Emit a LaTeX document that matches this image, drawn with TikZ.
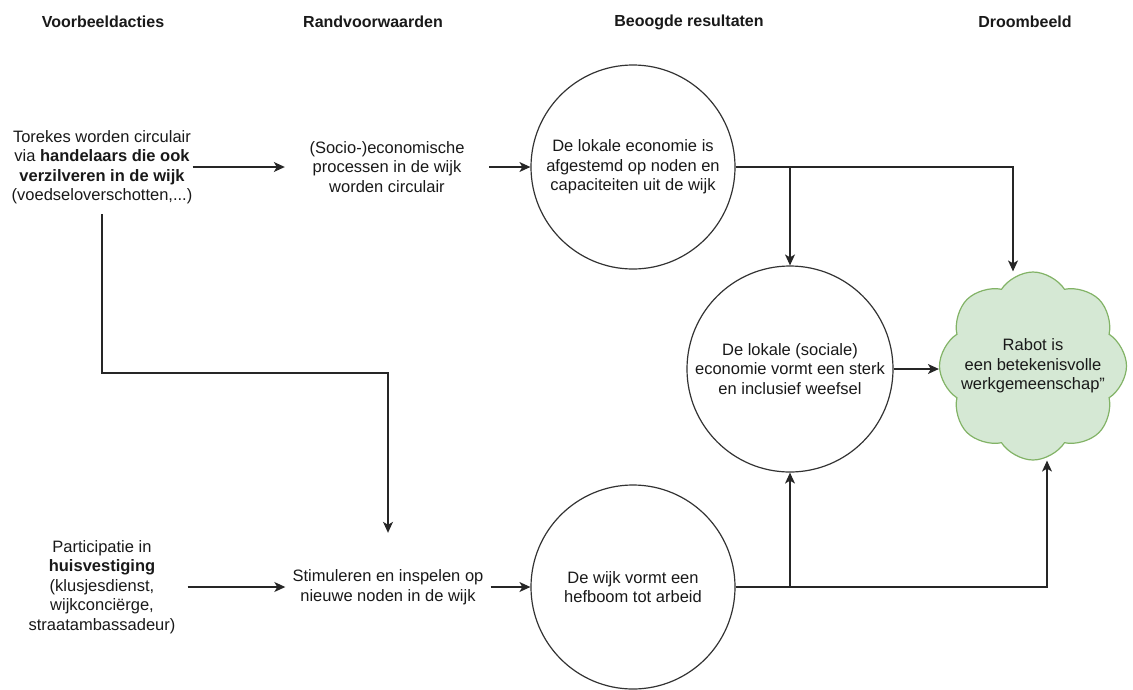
\documentclass[tikz,border=0pt]{standalone}
\usepackage{fontspec}
\setmainfont{Liberation Sans}
\usetikzlibrary{positioning}
\usetikzlibrary{arrows.meta,shapes.symbols}
\definecolor{droomfill}{HTML}{D5E8D4}
\definecolor{droomline}{HTML}{82B366}

\begin{document}
\begin{tikzpicture}[x=1pt,y=-1pt,
		header/.style={font=\fontsize{16}{19}\selectfont\bfseries, text=black!90, inner sep=0pt},
		tekst/.style={align=center, font=\fontsize{16.5}{19.5}\selectfont, text=black!90, inner sep=0pt},
		result/.style={tekst, circle, draw=black!80, line width=1.2pt, minimum size=204pt},
		dream/.style={cloud, cloud puffs=8, cloud puff arc=115, aspect=1, draw=droomline, fill=droomfill, line width=1.2pt, minimum width=187pt, minimum height=188pt, inner sep=0pt},
		connections/.style={draw=black!85, line width=1.2pt, -{Stealth[length=11pt,width=10pt,inset=3pt]}},
	]
	\useasboundingbox (0,0) rectangle (1133,689);
	% Draw column headers
	\node (hdracties) [header] at (103,22) {Voorbeeldacties};
	\node (hdrvoorw) [header] at (373,22) {Randvoorwaarden};
	\node (hdrresult) [header] at (689,22) {Beoogde resultaten};
	\node (hdrdroom) [header] at (1025,22) {Droombeeld};
	% Draw diagram elements
	\node (torekes) [tekst,inner ysep=10pt] at (102,167) {Torekes worden circulair\\via \textbf{handelaars die ook}\\\textbf{verzilveren in de wijk}\\(voedseloverschotten,...)};
	\node (socio) [tekst,minimum width=204pt] at (387,167) {(Socio-)economische\\processen in de wijk\\worden circulair};
	\node (lokaal) [result] at (633,167) {De lokale economie is\\afgestemd op noden en\\capaciteiten uit de wijk};
	\node (participatie) [tekst,inner xsep=12pt] at (102,587) {Participatie in\\\textbf{huisvestiging}\\(klusjesdienst,\\wijkconciërge,\\straatambassadeur)};
	\node (stimuleren) [tekst,minimum width=205pt,minimum height=108pt] at (388,587) {Stimuleren en inspelen op\\nieuwe noden in de wijk};
	\node (hefboom) [result] at (633,587) {De wijk vormt een\\hefboom tot arbeid};
	\node (weefsel) [result,minimum size=206pt] at (790,369) {De lokale (sociale)\\economie vormt een sterk\\en inclusief weefsel};
	\node (wolk) [dream] at (1033,366) {};
	\node (rabot) [tekst] at (wolk.center) {Rabot is\\een betekenisvolle\\werkgemeenschap"};
	\coordinate (knik) at (245,373);
	% Draw arrows between elements
	\draw[connections] (torekes.east) -- (torekes.east -| socio.west);
	\draw[connections] (socio.east) -- (socio.east -| lokaal.west);
	\draw[connections] (participatie.east) -- (participatie.east -| stimuleren.west);
	\draw[connections] (stimuleren.east) -- (stimuleren.east -| hefboom.west);
	\draw[connections] (torekes.south) |- (knik) -| (stimuleren.north);
	\draw[connections] (lokaal.east) -| (weefsel.north);
	\draw[connections] (lokaal.east) -| ([xshift=-20pt]wolk.north);
	\draw[connections] (hefboom.east) -| (weefsel.south);
	\draw[connections] (hefboom.east) -| ([xshift=14pt]wolk.south);
	\draw[connections] (weefsel.east) -- (weefsel.east -| wolk.west);
\end{tikzpicture}
\end{document}
